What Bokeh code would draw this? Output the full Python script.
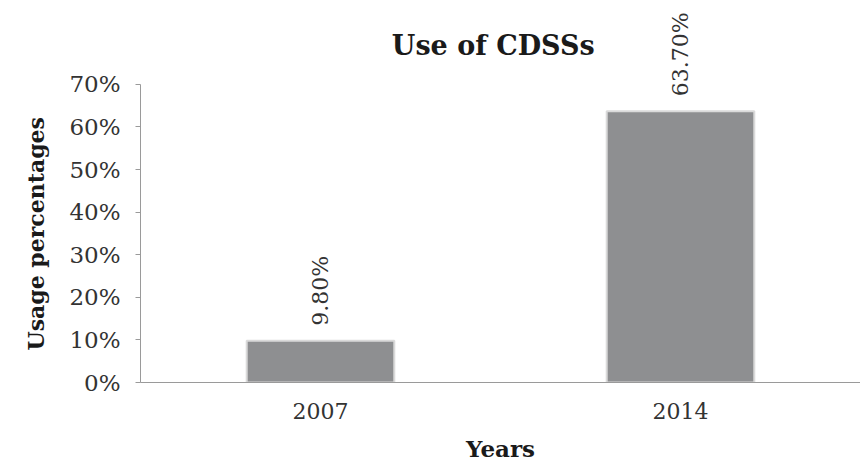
from bokeh.plotting import figure
from bokeh.models import ColumnDataSource, FixedTicker, PrintfTickFormatter, LabelSet, Title
from bokeh.core.properties import value
from bokeh.embed import file_html
from bokeh.resources import INLINE
import math

years = ["2007", "2014"]
usage = [9.8, 63.7]
value_labels = ["9.80%", "63.70%"]
y_ticks = [0, 10, 20, 30, 40, 50, 60, 70]
title_text = ["Use of CDSSs"]
title_x = [0.98]
title_y = [79.1]

SERIF = "DejaVu Serif"

src = ColumnDataSource(dict(year=years, usage=usage, label=value_labels))

p = figure(x_range=years, y_range=(0, 89.7), width=860, height=464,
           output_backend="svg", toolbar_location=None,
           min_border_left=140, min_border_right=0, min_border_top=0, min_border_bottom=82)

p.vbar(x="year", top="usage", width=0.41, source=src,
       fill_color="#8e8f91", line_color="#dadada", line_width=2)

labels = LabelSet(x="year", y="usage", text="label", source=src, angle=math.pi / 2,
                  x_offset=0, y_offset=15, text_align="left", text_baseline="middle",
                  text_font=value(SERIF), text_font_size="22px", text_color="#333333")
p.add_layout(labels)

p.text(x=title_x, y=title_y, text=title_text, text_align="center", text_baseline="middle",
       text_font=value(SERIF), text_font_size="27px", text_font_style="bold",
       text_color="#1a1a1a")

p.xgrid.visible = False
p.ygrid.visible = False
p.outline_line_color = None

p.yaxis.ticker = FixedTicker(ticks=y_ticks)
p.yaxis.formatter = PrintfTickFormatter(format="%d%%")
p.yaxis.bounds = (0, 70)
p.yaxis.axis_label_standoff = 0
p.yaxis.major_label_text_font = SERIF
p.yaxis.major_label_text_font_size = "23px"
p.yaxis.major_label_text_color = "#333333"
p.yaxis.major_label_standoff = 15
p.yaxis.major_tick_out = 5
p.yaxis.major_tick_in = 0
p.yaxis.minor_tick_out = 0
p.yaxis.minor_tick_in = 0
p.yaxis.axis_line_color = "#9a9a9a"
p.yaxis.major_tick_line_color = "#9a9a9a"

ytitle = Title(text="Usage percentages", align="left", offset=32, vertical_align="top",
               text_font=SERIF, text_font_style="bold", text_font_size="22px",
               text_color="#1a1a1a", standoff=31)
p.add_layout(ytitle, "left")

p.xaxis.axis_label = "Years"
p.xaxis.axis_label_text_font = SERIF
p.xaxis.axis_label_text_font_style = "bold"
p.xaxis.axis_label_text_font_size = "23px"
p.xaxis.axis_label_text_color = "#1a1a1a"
p.xaxis.axis_label_standoff = 13
p.xaxis.major_label_text_font = SERIF
p.xaxis.major_label_text_font_size = "22px"
p.xaxis.major_label_text_color = "#333333"
p.xaxis.major_label_standoff = 20
p.xaxis.major_tick_out = 0
p.xaxis.major_tick_in = 0
p.xaxis.axis_line_color = "#9a9a9a"

open("out.html", "w").write(file_html(p, INLINE))
